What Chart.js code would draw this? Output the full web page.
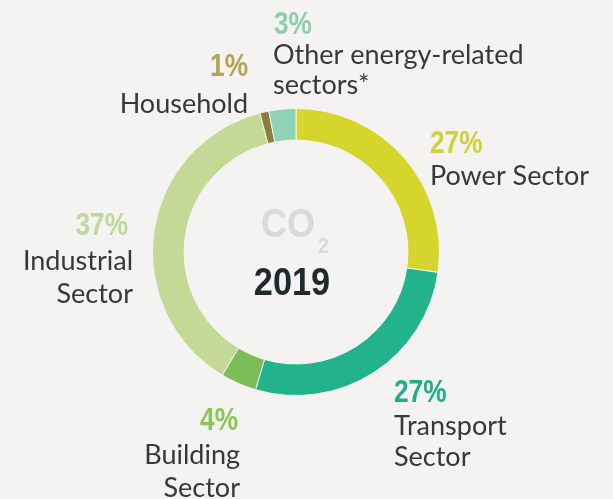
<!DOCTYPE html>
<html>
<head>
<meta charset="utf-8">
<script src="https://cdn.jsdelivr.net/npm/chart.js@4"></script>
<style>
  html, body { margin: 0; padding: 0; background: #f4f3f1; }
  #wrap { width: 613px; height: 499px; }
</style>
</head>
<body>
<div id="wrap"><canvas id="donut" width="613" height="499"></canvas></div>
<script>
// CO2 emissions by sector, 2019 (share in %)
const sectors = ['Power Sector', 'Transport Sector', 'Building Sector', 'Industrial Sector', 'Household', 'Other energy-related sectors*'];
const shares = [27, 27, 4, 37, 1, 3];
const nameLines = [['Power Sector'], ['Transport', 'Sector'], ['Building', 'Sector'], ['Industrial', 'Sector'], ['Household'], ['Other energy-related', 'sectors*']];
const centerTitle = 'CO';
const centerSub = '2';
const centerYear = '2019';

const sliceColors = ['#d5d52b', '#22b38c', '#7dbd55', '#c3d995', '#8b7d3a', '#8fd2b4'];
const pctColors = ['#d0d03c', '#1fae8a', '#8cc45a', '#bfd89e', '#b3a354', '#8ccfae'];

// label blocks: anchor x, alignment, percent x, baselines of percent and name lines
const labelLayout = [
  { x: 430, align: 'left',  px: 430, pct: 153, lines: [185] },
  { x: 394, align: 'left',  px: 394, pct: 402, lines: [435, 466] },
  { x: 240, align: 'right', px: 238, pct: 430, lines: [464, 497] },
  { x: 133, align: 'right', px: 128, pct: 235, lines: [270, 303] },
  { x: 248, align: 'right', px: 248, pct: 76,  lines: [113] },
  { x: 273, align: 'left',  px: 274, pct: 34,  lines: [64, 94] }
];

const nameFont = '27px Lato';
const boldFamily = '"Liberation Sans", Arial, sans-serif';

// bold text squeezed horizontally to get a condensed look
function narrowText(ctx, text, x, y, align, size, sx) {
  ctx.save();
  ctx.translate(x, y);
  ctx.scale(sx, 1);
  ctx.font = 'bold ' + size + 'px ' + boldFamily;
  ctx.textAlign = align;
  ctx.fillText(text, 0, 0);
  ctx.restore();
}

const sectorLabels = {
  id: 'sectorLabels',
  afterDraw(chart) {
    const ctx = chart.ctx;
    ctx.save();
    ctx.textBaseline = 'alphabetic';
    shares.forEach((v, i) => {
      const l = labelLayout[i];
      ctx.fillStyle = pctColors[i];
      narrowText(ctx, v + '%', l.px, l.pct, l.align, 32, 0.82);
      ctx.font = nameFont;
      ctx.textAlign = l.align;
      ctx.fillStyle = '#383838';
      nameLines[i].forEach((t, j) => ctx.fillText(t, l.x, l.lines[j]));
    });

    // centre text
    const arc = chart.getDatasetMeta(0).data[0];
    const cx = arc.x, cy = arc.y;
    ctx.font = 'bold 40px ' + boldFamily;
    const coW = ctx.measureText(centerTitle).width * 0.9;
    const startX = cx - 35;
    ctx.fillStyle = '#d9d9d9';
    narrowText(ctx, centerTitle, startX, cy - 15, 'left', 40, 0.9);
    narrowText(ctx, centerSub, startX + coW + 3, cy + 1, 'left', 22, 0.9);
    ctx.fillStyle = '#1f2a30';
    narrowText(ctx, centerYear, cx - 4, cy + 43, 'center', 39, 0.88);
    ctx.restore();
  }
};

const ctx = document.getElementById('donut').getContext('2d');
new Chart(ctx, {
  type: 'doughnut',
  data: {
    labels: sectors,
    datasets: [{
      data: shares,
      backgroundColor: sliceColors,
      borderColor: '#f4f3f1',
      borderWidth: 1
    }]
  },
  options: {
    responsive: false,
    animation: false,
    cutout: '78%',
    rotation: 0,
    layout: { padding: { left: 152, right: 173, top: 108, bottom: 103 } },
    plugins: {
      legend: { display: false },
      tooltip: { enabled: false }
    }
  },
  plugins: [sectorLabels]
});
</script>
</body>
</html>
